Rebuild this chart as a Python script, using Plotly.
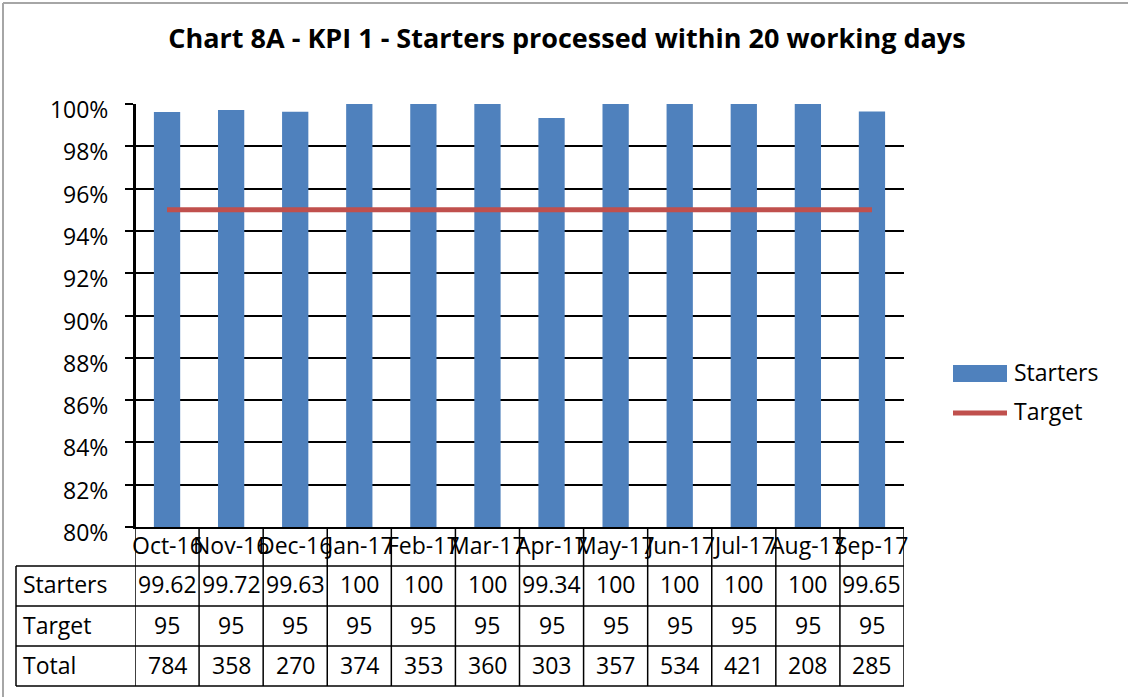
import plotly.graph_objects as go

# ---- data ----
months = ["Oct-16", "Nov-16", "Dec-16", "Jan-17", "Feb-17", "Mar-17",
          "Apr-17", "May-17", "Jun-17", "Jul-17", "Aug-17", "Sep-17"]
starters = [99.62, 99.72, 99.63, 100, 100, 100, 99.34, 100, 100, 100, 100, 99.65]
target = [95] * 12
totals = [784, 358, 270, 374, 353, 360, 303, 357, 534, 421, 208, 285]
y_ticks = list(range(80, 101, 2))
y_tick_labels = [f"{v}%" for v in y_ticks]

# ---- layout constants (pixels) ----
WIDTH, HEIGHT = 1128, 697
L, R, T, B = 135, 904, 104, 527
PW, PH = R - L, B - T
FONT = "Open Sans"
FS = 23
BLUE = "#4F81BD"
RED = "#C0504D"


def px(x):
    return (x - L) / PW


def py(y):
    return (B - y) / PH


fig = go.Figure()
fig.add_trace(go.Bar(x=months, y=starters, name="Starters", marker_color=BLUE,
                     marker_line_width=0, width=0.41, showlegend=False))
fig.add_trace(go.Scatter(x=months, y=target, name="Target", mode="lines",
                         line=dict(color=RED, width=5), showlegend=False))

shapes = []
ann = []
line = dict(color="black", width=1.5)
tfont = dict(family=FONT, size=FS, color="black")

# y-axis line (left edge of plot area)
shapes.append(dict(type="line", xref="paper", yref="paper",
                   x0=0, x1=0, y0=0, y1=1, line=dict(color="black", width=2)))

# table horizontal lines
for yy in [566, 606, 646, 686]:
    shapes.append(dict(type="line", xref="paper", yref="paper",
                       x0=px(16), x1=px(R), y0=py(yy), y1=py(yy), line=line))
# left border of table
shapes.append(dict(type="line", xref="paper", yref="paper",
                   x0=px(16), x1=px(16), y0=py(566), y1=py(686), line=line))
# column boundaries (through category row too)
for i in range(len(months) + 1):
    shapes.append(dict(type="line", xref="x", yref="paper",
                       x0=i - 0.5, x1=i - 0.5, y0=py(B), y1=py(686), line=line))

# outer chart border (top & left visible)
border = dict(color="#A6A6A6", width=2)
shapes.append(dict(type="line", xref="paper", yref="paper",
                   x0=px(3), x1=px(WIDTH + 5), y0=py(3), y1=py(3), line=border))
shapes.append(dict(type="line", xref="paper", yref="paper",
                   x0=px(3), x1=px(3), y0=py(3), y1=py(HEIGHT + 5), line=border))

# category labels and table values
row_y = {"cat": 545, "Starters": 584, "Target": 625, "Total": 665}
for i, m in enumerate(months):
    ann.append(dict(x=m, xref="x", y=py(row_y["cat"]), yref="paper", text=m,
                    xanchor="center", yanchor="middle", showarrow=False, font=tfont))
    for key, vals in [("Starters", starters), ("Target", target), ("Total", totals)]:
        ann.append(dict(x=m, xref="x", y=py(row_y[key]), yref="paper",
                        text=f"{vals[i]:g}", xanchor="center", yanchor="middle",
                        showarrow=False, font=tfont))
for key in ["Starters", "Target", "Total"]:
    ann.append(dict(x=px(21), xref="paper", xanchor="left", y=py(row_y[key]),
                    yref="paper", yanchor="middle", text=key, showarrow=False, font=tfont))

# custom legend
shapes.append(dict(type="rect", xref="paper", yref="paper", x0=px(953), x1=px(1007),
                   y0=py(382), y1=py(365), fillcolor=BLUE, line=dict(width=0)))
shapes.append(dict(type="line", xref="paper", yref="paper", x0=px(953), x1=px(1007),
                   y0=py(413), y1=py(413), line=dict(color=RED, width=5)))
ann.append(dict(x=px(1012), xref="paper", xanchor="left", y=py(372), yref="paper",
                yanchor="middle", text="Starters", showarrow=False, font=tfont))
ann.append(dict(x=px(1012), xref="paper", xanchor="left", y=py(411), yref="paper",
                yanchor="middle", text="Target", showarrow=False, font=tfont))

fig.update_layout(
    width=WIDTH, height=HEIGHT,
    margin=dict(l=L, r=WIDTH - R, t=T, b=HEIGHT - B, pad=0),
    paper_bgcolor="white", plot_bgcolor="white",
    title=dict(text="<b>Chart 8A - KPI 1 - Starters processed within 20 working days</b>",
               x=567 / WIDTH, xanchor="center", y=1 - 39 / HEIGHT, yanchor="middle",
               font=dict(family=FONT, size=27, color="black")),
    xaxis=dict(type="category", range=[-0.5, len(months) - 0.5], showticklabels=False,
               showline=True, linecolor="black", linewidth=1.5, ticks="",
               showgrid=False, zeroline=False),
    yaxis=dict(range=[80, 100], tickvals=y_ticks, ticktext=y_tick_labels,
               showline=True, linecolor="black", linewidth=2,
               ticks="outside", ticklen=8, tickcolor="black", tickwidth=1.5,
               ticklabelstandoff=12, ticklabelshift=6,
               showgrid=True, gridcolor="black", gridwidth=1.5, zeroline=False,
               tickfont=dict(family=FONT, size=FS, color="black")),
    shapes=shapes, annotations=ann, bargap=0.59,
)

fig.write_html("out.html", post_script="document.body.style.margin='0';",
               config={"displayModeBar": False})
